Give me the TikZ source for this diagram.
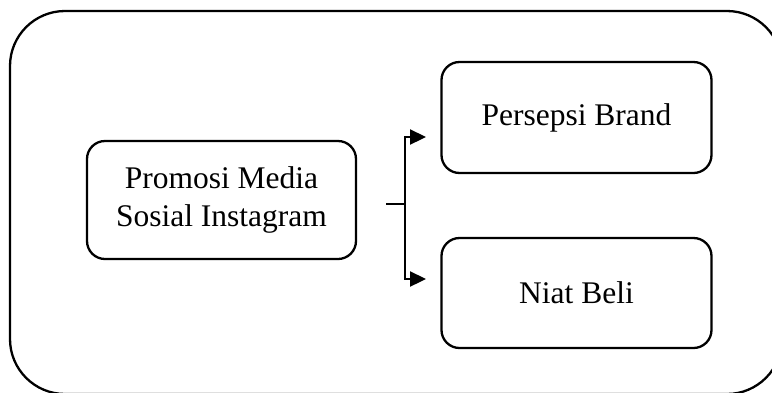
\documentclass[tikz,border=0pt]{standalone}
\usepackage{fontspec}
\setmainfont{Liberation Serif}
\usetikzlibrary{arrows.meta,positioning}

\begin{document}
\begin{tikzpicture}[
    x=1pt, y=-1pt,
    box/.style={draw, line width=2.3pt, rounded corners=18pt, minimum width=270pt, minimum height=111pt, inner sep=0pt, align=center, font=\fontsize{31.5}{38}\selectfont},
    arr/.style={-{Triangle[length=16pt, width=15pt]}, line width=2.3pt},
    lin/.style={line width=2.3pt}
]
\useasboundingbox (0,0) rectangle (772,392);
\draw[lin, rounded corners=55pt] (10,11) rectangle (782,394);

\node[box, minimum width=269pt, minimum height=118pt] (promosi) at (221.5,200) {Promosi Media\\Sosial Instagram};
\node[box] (persepsi) at (576.5,117.5) {Persepsi Brand};
\node[box, minimum height=110pt] (niat) at (576.5,293) {Niat Beli};

\coordinate (stub) at (386,204);
\coordinate (split) at (405,204);
\coordinate (tipA) at (426,137);
\coordinate (tipB) at (426,279);

\draw[lin] (stub) -- (split);
\draw[arr] (split) |- (tipA);
\draw[arr] (split) |- (tipB);
\end{tikzpicture}
\end{document}
